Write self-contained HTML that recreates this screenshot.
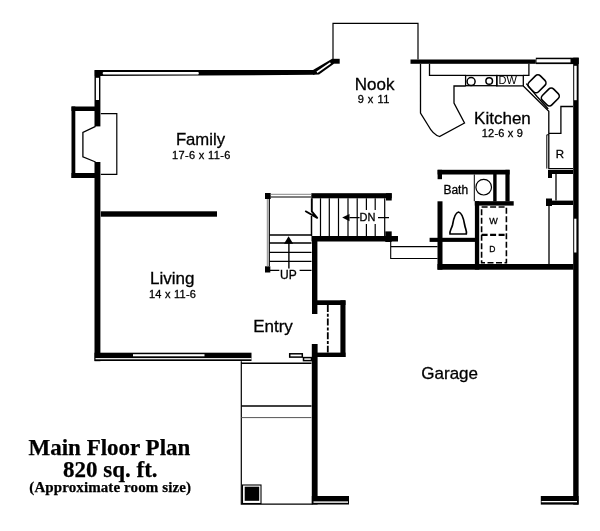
<!DOCTYPE html>
<html><head><meta charset="utf-8">
<style>
html,body{margin:0;padding:0;background:#fff;width:600px;height:531px;overflow:hidden}
svg{display:block;position:absolute;left:0;top:0;filter:grayscale(1)}
.s{font-family:"Liberation Sans",sans-serif;fill:#000;stroke:#000;stroke-width:0.3px}
.t{font-family:"Liberation Serif",serif;font-weight:bold;fill:#000;stroke:#000;stroke-width:0.25px}
</style></head><body>
<svg width="600" height="531" viewBox="0 0 600 531">
<g fill="#000" stroke="none">
  <!-- top-left wall with window -->
  <polygon points="94.8,70.1 314.5,70.1 314.5,74.8 94.8,76.1"/>
  <polygon points="313,70.1 331.7,58.9 334,63.7 319,74.6 313,74.8"/>
  <!-- left wall -->
  <rect x="94.5" y="70.1" width="5.9" height="56.3"/>
  <rect x="94.5" y="162" width="5.9" height="199.2"/>
  <!-- fireplace outer -->
  <rect x="71.5" y="106.5" width="3.8" height="71.5"/>
  <rect x="71.5" y="106.5" width="23.5" height="4.5"/>
  <rect x="71.5" y="173" width="23.5" height="5"/>
  <!-- family/living divider -->
  <rect x="100.8" y="211.3" width="116.2" height="5.4"/>
  <!-- living bottom wall -->
  <rect x="94.5" y="352.7" width="157" height="8.3"/>
  <!-- nook block -->
  <rect x="331.7" y="58.8" width="8" height="4.9"/>
  <!-- kitchen top wall -->
  <rect x="410.5" y="59.5" width="125.3" height="4.3"/>
  <rect x="535.8" y="57.7" width="35.2" height="6.4"/>
  <rect x="570.8" y="57.7" width="8" height="6.4"/>
  <!-- right wall -->
  <rect x="573.2" y="57.7" width="5.4" height="446.9"/>
  <!-- garage bottom -->
  <rect x="311.8" y="496" width="37.2" height="8.5"/>
  <rect x="540.8" y="496" width="37.8" height="8.6"/>
  <!-- garage left wall lower -->
  <rect x="311.8" y="344" width="5.8" height="160.5"/>
  <!-- stair/entry wall upper -->
  <rect x="312" y="236" width="5.4" height="78"/>
  <!-- closet -->
  <rect x="312" y="300.3" width="33.5" height="4.7"/>
  <rect x="340.4" y="300.3" width="5.1" height="56.7"/>
  <rect x="312" y="352.6" width="33.5" height="4.4"/>
  <!-- stairs top wall -->
  <rect x="311.3" y="193.2" width="80.4" height="5.1"/>
  <rect x="386" y="193.2" width="5.7" height="7.3"/>
  <!-- stairs bottom wall -->
  <rect x="311.5" y="236" width="86.5" height="5.5"/>
  <rect x="385.3" y="231.4" width="6.4" height="10.6"/>
  <!-- posts -->
  <rect x="265" y="193" width="5.7" height="6"/>
  <rect x="265" y="266.3" width="5.3" height="6.2"/>
  <!-- bath -->
  <rect x="437.6" y="169.8" width="72" height="4.7"/>
  <rect x="437.6" y="169.8" width="4.4" height="9.4"/>
  <rect x="437.5" y="201.3" width="5" height="68.4"/>
  <rect x="429.6" y="237.8" width="45.7" height="4.1"/>
  <rect x="474.9" y="201.2" width="4.3" height="68.4"/>
  <rect x="474.8" y="201.2" width="38.9" height="4.4"/>
  <rect x="493.2" y="174" width="3.4" height="27.5"/>
  <rect x="505.4" y="169.8" width="4.2" height="31.7"/>
  <!-- garage top (under bath) -->
  <rect x="437.5" y="264" width="136" height="5.7"/>
  <!-- right side pantry -->
  <rect x="548" y="170" width="25" height="4"/>
  <rect x="548" y="170" width="4" height="8"/>
  <rect x="546.6" y="200.6" width="26.4" height="4.4"/>
  <rect x="546" y="198.5" width="6" height="7.5"/>
</g>
<!-- windows: white strips -->
<g fill="#fff" stroke="none">
  <rect x="102.7" y="72.1" width="96.1" height="2.5" rx="1"/>
  <path d="M317,72.2 L330.5,62.9" stroke="#fff" stroke-width="1.7"/>
  <rect x="95.9" y="77.8" width="3.1" height="22.2"/>
  <rect x="133" y="354.2" width="71.5" height="2.1"/>
  <rect x="95.5" y="358.1" width="156" height="1.2"/>
  <rect x="536.5" y="59.2" width="34" height="3.2"/>
  <rect x="574.2" y="65.8" width="2.5" height="34.4"/>
  <rect x="574.2" y="218.7" width="2.2" height="33.8"/>
  <rect x="313.5" y="501.4" width="34.5" height="1.4"/>
  <rect x="541.5" y="501" width="35.5" height="1.3"/>
</g>
<g fill="none" stroke="#000" stroke-width="1.3">
  <!-- angled window -->
  
  <!-- nook bay -->
  <path d="M333,59.2 V23.3 H418 V59.5" stroke-width="1.2"/>
  <!-- firebox -->
  <path d="M95.6,126.4 L82.9,132.3 V156.9 L95.6,162"/>
  <!-- hearth -->
  <path d="M100.8,113.6 H116.8 V174.3 H100.8" stroke-width="1.2"/>
  <!-- kitchen counters -->
  <path d="M420.5,63.8 V113 L428.5,126 Q433,134.5 439.5,136.5 L464.5,123 L454,103 V86 H465.6"/>
  <path d="M429.5,63.8 V75.4 H465.6"/>
  <rect x="465.6" y="75.5" width="31.2" height="10.2"/>
  <circle cx="471.1" cy="81.6" r="4" stroke-width="1.5"/>
  <circle cx="489.2" cy="81" r="3.3" stroke-width="1.5"/>
  <rect x="496.8" y="75.5" width="26.5" height="10.4"/>
  <path d="M528.9,63.8 V75.3 H523.3"/>
  <path d="M523.3,86 L548.8,111.2 V168.6 H573 M548.8,133.4 H560.9 V106.5 H573"/>
  <rect x="-6.7" y="-8" width="13.4" height="16" rx="3.5" stroke-width="1.6" transform="translate(537,83.8) rotate(45)"/>
  <rect x="-6.7" y="-8" width="13.4" height="16" rx="3.5" stroke-width="1.6" transform="translate(550.3,97) rotate(45)"/>
  <path d="M526.3,83.6 L537,96.5 L548.2,109" stroke-width="1.3"/>
  <!-- fridge -->
  <path d="M549,134.8 H546.8 V168.6" stroke-width="1"/>
  <!-- pantry lines -->
  <path d="M556,174 V200.6 M549,205 V264"/>
  <!-- bath details -->
  <path d="M474.3,174.5 V201.2" stroke-width="1"/>
  <circle cx="483.7" cy="187.2" r="7.8" stroke-width="1.2"/>
  <path d="M458.5,212 C455.5,212.5 453.5,219 452.5,225 C451.5,229 449.5,230.5 450,234 H466.3 C467,230.5 465.3,229 464.7,225 C463.7,219 461.5,212.5 458.5,212 Z" stroke-width="1.7"/>
  <!-- W/D dashed -->
  <path d="M481.6,207 H506.4 V262.8 H481.6 Z" stroke-width="1.6" stroke-dasharray="6 2.5"/>
  <path d="M481.6,234.9 H506.4" stroke-width="2.4" stroke-dasharray="6 2.5"/>
  <!-- rail lines right of stairs -->
  <path d="M390.7,242 V258.5 H437.6 M390.7,246.6 H437.6" stroke-width="1.1"/>
  <!-- stairs -->
  <path d="M270.7,194.3 H311.3 M267.3,199 V266.3" stroke="#888" stroke-width="1"/>
  <path d="M270.7,197 H311.3 M269.3,199 V266.3" stroke-width="1.2"/>
  <path d="M269.5,235 H311.5 M269.5,243 H311.5 M269.5,252.4 H311.5 M269.5,261.4 H311.5 M270,270.4 H279.3 M299.6,270.4 H311.5" stroke-width="1.3"/>
  <path d="M288.9,242 V268.5" stroke-width="1.4"/>
  <path d="M320.5,198.3 V236 M329.3,198.3 V236 M338.5,198.3 V236 M348,198.3 V236 M357.2,198.3 V236 M366.4,198.3 V210 M366.4,224 V236 M375.2,198.3 V210 M375.2,224 V236 M384.7,198.3 V236" stroke-width="1.2"/>
  <path d="M311.8,198.3 V211.3 L317.2,217.8 L305.2,211" stroke-width="1.9" stroke-linejoin="round"/>
  <path d="M311.5,216 V236" stroke-width="1.5"/>
  <path d="M349.5,217.6 H359.6 M378,217.6 H389" stroke-width="1.2"/>
  <!-- closet door -->
  <path d="M327.8,305 V352.6" stroke-width="1.8" stroke-dasharray="7 1.8 3 1.8"/>
  <!-- entry sill -->
  <rect x="289.7" y="353.8" width="12.6" height="3.3" stroke-width="1.5" fill="#fff"/>
  <rect x="303.5" y="357.6" width="8" height="3" stroke-width="1.5" fill="#fff"/>
  <!-- porch -->
  <path d="M241.3,361.2 V504.2 H312.5" stroke-width="1.2"/>
  <path d="M241.3,363.3 H311.5" stroke-width="1.4"/>
  <path d="M241.3,406 H311.5" stroke-width="1.3"/>
  <path d="M241.3,417.6 H311.5" stroke="#555" stroke-width="1"/>
  <rect x="242.5" y="485" width="18.5" height="18.5" stroke-width="1.1"/>
</g>
<g fill="#000">
  <polygon points="288.6,236.3 284,243.8 293.2,243.8"/>
  <polygon points="342.2,217.6 349.5,214 349.5,221.3"/>
  <rect x="244.7" y="486.7" width="14.5" height="14.1"/>
</g>
<!-- texts -->
<g class="s">
  <text x="175.9" y="145" font-size="16.7">Family</text>
  <text x="172" y="159.2" font-size="11" letter-spacing="0.35">17-6 x 11-6</text>
  <text x="354.75" y="89.7" font-size="17">Nook</text>
  <text x="357.7" y="102.9" font-size="11" letter-spacing="0.5">9 x 11</text>
  <text x="474.1" y="124" font-size="17">Kitchen</text>
  <text x="481.8" y="137" font-size="11" letter-spacing="0.2">12-6 x 9</text>
  <text x="150.1" y="284" font-size="17">Living</text>
  <text x="148.9" y="297.7" font-size="11" letter-spacing="0.25">14 x 11-6</text>
  <text x="253.2" y="331.5" font-size="17">Entry</text>
  <text x="421.3" y="379" font-size="17">Garage</text>
  <text x="280" y="278.7" font-size="12">UP</text>
  <text x="359.5" y="220.7" font-size="11">DN</text>
  <text x="498.5" y="83.5" font-size="11" stroke-width="0">DW</text>
  <text x="560" y="158" font-size="11.5" text-anchor="middle">R</text>
  <text x="443.4" y="193.9" font-size="12">Bath</text>
  <text x="493.6" y="223.7" font-size="9" stroke="#000" stroke-width="0.3" text-anchor="middle">W</text>
  <text x="492.4" y="251.6" font-size="8.5" stroke="#000" stroke-width="0.3" text-anchor="middle">D</text>
</g>
<g class="t">
  <text x="28.5" y="454.5" font-size="23">Main Floor Plan</text>
  <text x="63" y="476.8" font-size="23">820 sq. ft.</text>
  <text x="29.3" y="491.8" font-size="15" letter-spacing="0.1">(Approximate room size)</text>
</g>
</svg>
</body></html>
